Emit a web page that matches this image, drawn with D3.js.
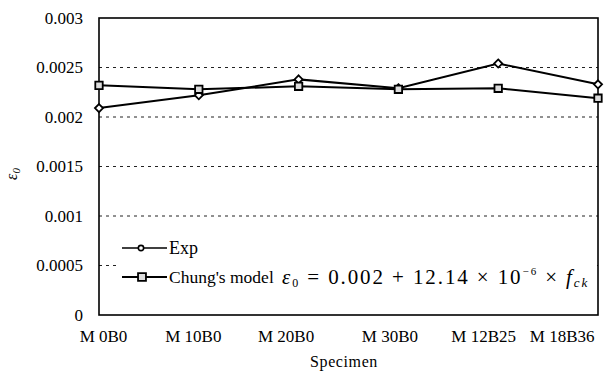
<!DOCTYPE html>
<html>
<head>
<meta charset="utf-8">
<script src="https://cdn.jsdelivr.net/npm/d3@7"></script>
<style>
  body { margin: 0; background: #fff; }
  svg { font-family: "Liberation Serif", "Times New Roman", serif; }
</style>
</head>
<body>
<svg id="chart" width="607" height="381"></svg>
<script>
const specimens = ["M0B0", "M10B0", "M20B0", "M30B0", "M12B25", "M18B36"];
const specimenLabels = ["M 0B0", "M 10B0", "M 20B0", "M 30B0", "M 12B25", "M 18B36"];
const expValues = [0.00209, 0.00222, 0.00238, 0.00229, 0.00254, 0.00233];
const chungValues = [0.00232, 0.00228, 0.00231, 0.00228, 0.00229, 0.00219];
const yTicks = [0, 0.0005, 0.001, 0.0015, 0.002, 0.0025, 0.003];
const yTickLabels = ["0", "0.0005", "0.001", "0.0015", "0.002", "0.0025", "0.003"];

const svg = d3.select("#chart");
const plotLeft = 99, plotRight = 598, plotTop = 18, plotBottom = 315;
// the original squeezes the category labels a bit to the left
const labelShift = [4, -6, -13, -9, -15, -4];

const x = d3.scalePoint().domain(specimens).range([plotLeft, plotRight]);
const y = d3.scaleLinear().domain([0, 0.003]).range([plotBottom, plotTop]);

// dashed grid lines
svg.append("g")
  .selectAll("line")
  .data(yTicks.filter(d => d > 0 && d < 0.003))
  .enter().append("line")
  .attr("x1", plotLeft).attr("x2", plotRight)
  .attr("y1", d => y(d)).attr("y2", d => y(d))
  .attr("stroke", "#222")
  .attr("stroke-width", 1)
  .attr("stroke-dasharray", "3,4");

// y axis labels
const yAxis = d3.axisLeft(y)
  .tickValues(yTicks)
  .tickSize(0)
  .tickPadding(16)
  .tickFormat((d, i) => yTickLabels[i]);
const gy = svg.append("g").attr("transform", `translate(${plotLeft},0)`).call(yAxis);
gy.select(".domain").remove();
gy.selectAll("text")
  .attr("font-size", 17)
  .attr("font-family", "Liberation Serif")
  .attr("fill", "#000");

// x axis labels
const xAxis = d3.axisBottom(x).tickSize(0).tickPadding(15)
  .tickFormat((d, i) => specimenLabels[i]);
const gx = svg.append("g").attr("transform", `translate(0,${plotBottom})`).call(xAxis);
gx.select(".domain").remove();
gx.selectAll("text")
  .attr("font-size", 17)
  .attr("font-family", "Liberation Serif")
  .attr("fill", "#000")
  .attr("text-anchor", (d, i) => i === specimens.length - 1 ? "end" : "middle")
  .attr("dx", (d, i) => labelShift[i]);

// legend background (covers gridlines)
svg.append("rect")
  .attr("x", 116).attr("y", 232)
  .attr("width", plotRight - 117).attr("height", 66)
  .attr("fill", "#fff");

// frame
svg.append("rect")
  .attr("x", plotLeft).attr("y", plotTop)
  .attr("width", plotRight - plotLeft).attr("height", plotBottom - plotTop)
  .attr("fill", "none")
  .attr("stroke", "#000")
  .attr("stroke-width", 1.6);

const line = d3.line().x((d, i) => x(specimens[i])).y(d => y(d));

svg.append("path").datum(chungValues)
  .attr("d", line).attr("fill", "none")
  .attr("stroke", "#000").attr("stroke-width", 2);
svg.append("path").datum(expValues)
  .attr("d", line).attr("fill", "none")
  .attr("stroke", "#000").attr("stroke-width", 2);

const diamond = d3.symbol().type(d3.symbolDiamond2).size(42);
const square = d3.symbol().type(d3.symbolSquare2).size(70);

svg.append("g").selectAll("path")
  .data(expValues).enter().append("path")
  .attr("d", diamond)
  .attr("transform", (d, i) => `translate(${x(specimens[i])},${y(d)})`)
  .attr("fill", "#fff").attr("stroke", "#000").attr("stroke-width", 1.8);

svg.append("g").selectAll("path")
  .data(chungValues).enter().append("path")
  .attr("d", square)
  .attr("transform", (d, i) => `translate(${x(specimens[i])},${y(d)})`)
  .attr("fill", "#ddd").attr("stroke", "#000").attr("stroke-width", 1.8);

// legend
const legend = svg.append("g");
legend.append("line").attr("x1", 122).attr("x2", 167).attr("y1", 248).attr("y2", 248)
  .attr("stroke", "#000").attr("stroke-width", 1.6);
legend.append("path").attr("d", d3.symbol().type(d3.symbolCircle).size(22))
  .attr("transform", "translate(141,248)")
  .attr("fill", "#fff").attr("stroke", "#000").attr("stroke-width", 1.6);
legend.append("text").attr("x", 169).attr("y", 254)
  .attr("font-size", 18).text("Exp");

legend.append("line").attr("x1", 122).attr("x2", 167).attr("y1", 277).attr("y2", 277)
  .attr("stroke", "#000").attr("stroke-width", 2);
legend.append("path").attr("d", d3.symbol().type(d3.symbolSquare2).size(80))
  .attr("transform", "translate(142,277)")
  .attr("fill", "#ddd").attr("stroke", "#000").attr("stroke-width", 1.8);
legend.append("text").attr("x", 169).attr("y", 283)
  .attr("font-size", 17.5).text("Chung's model");

// formula
const f = svg.append("text").attr("x", 282).attr("y", 284)
  .attr("font-size", 21).attr("letter-spacing", 1.9);
f.append("tspan").attr("font-style", "italic").text("ε");
f.append("tspan").attr("font-size", 12).attr("dy", 3).text("0");
f.append("tspan").attr("dy", -3).text(" = 0.002 + 12.14 × 10");
f.append("tspan").attr("font-size", 11).attr("dy", -9).text("−6");
f.append("tspan").attr("dy", 9).text(" × ");
f.append("tspan").attr("font-style", "italic").text("f");
f.append("tspan").attr("font-size", 13).attr("font-style", "italic").attr("dy", 3).text("ck");

// axis titles
svg.append("text")
  .attr("x", 344).attr("y", 367)
  .attr("text-anchor", "middle")
  .attr("font-size", 16).attr("letter-spacing", 0.6)
  .text("Specimen");

const yl = svg.append("text")
  .attr("transform", "translate(17,174) rotate(-90)")
  .attr("text-anchor", "middle")
  .attr("font-size", 16);
yl.append("tspan").attr("font-style", "italic").text("ε");
yl.append("tspan").attr("font-size", 11).attr("font-style", "italic").attr("dy", 3).text("0");
</script>
</body>
</html>
